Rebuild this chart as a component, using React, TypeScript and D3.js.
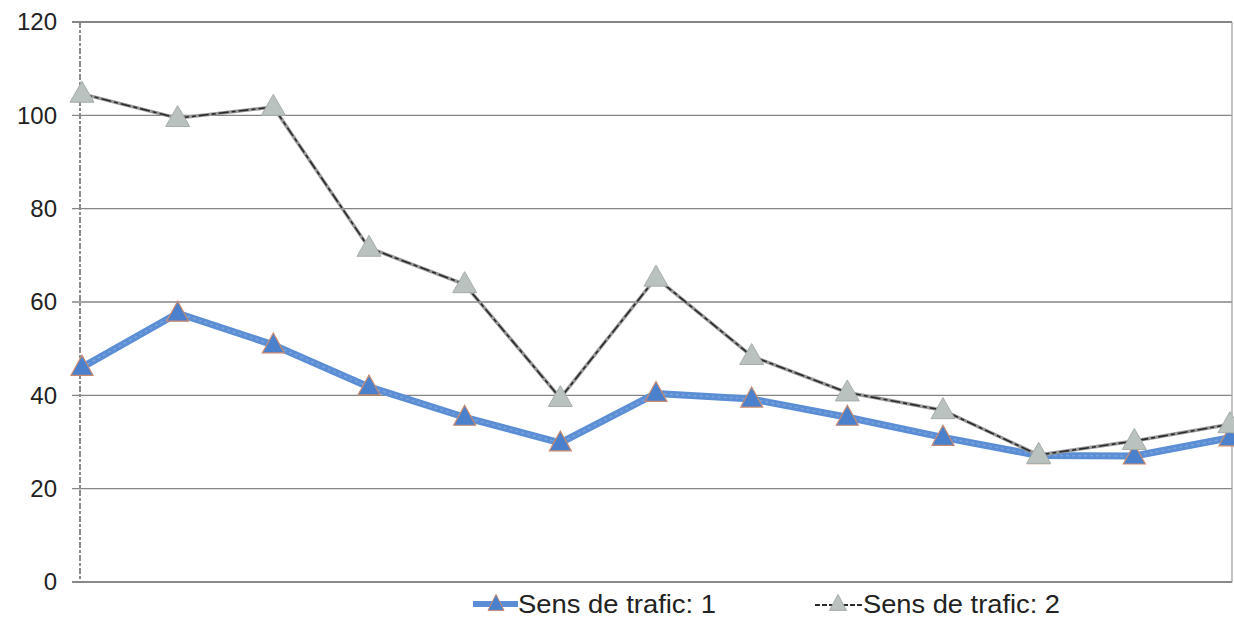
import React from "react";
import * as d3 from "d3";

const categories = ["1", "2", "3", "4", "5", "6", "7", "8", "9", "10", "11", "12", "13"];
const series1 = [46, 57.6, 50.8, 41.8, 35.3, 29.8, 40.4, 39.2, 35.3, 31, 27.1, 27, 30.9];
const series2 = [104.6, 99.4, 101.8, 71.6, 63.8, 39.4, 65.2, 48.4, 40.6, 36.8, 27.2, 30.2, 33.8];
const yTicks = [0, 20, 40, 60, 80, 100, 120];
const legendLabels = ["Sens de trafic: 1", "Sens de trafic: 2"];

const W = 1234;
const H = 618;
const left = 80;
const right = 1232;
const top = 22;
const bottom = 582;
const FONT = "'Liberation Sans', Arial, sans-serif";

function tri(cx: number, cy: number, w: number, h: number) {
  return `M${cx},${cy - h * 0.6}L${cx + w / 2},${cy + h * 0.4}L${cx - w / 2},${cy + h * 0.4}Z`;
}

export default function App() {
  const x = d3.scalePoint<string>().domain(categories).range([left + 2, right - 2]);
  const y = d3.scaleLinear().domain([0, 120]).range([bottom, top]);
  const line = d3
    .line<number>()
    .x((_, i) => x(categories[i]) as number)
    .y((d) => y(d));

  return (
    <svg
      width={W}
      height={H}
      style={{ position: "absolute", left: 0, top: 0, background: "#fff" }}
    >
      {/* gridlines */}
      {yTicks.map((t) => (
        <line
          key={t}
          x1={left - 8}
          x2={right}
          y1={y(t)}
          y2={y(t)}
          stroke={t === 0 ? "#8a8a8a" : "#858585"}
          strokeWidth={t === 0 || t === 120 ? 2 : 1.4}
        />
      ))}
      {/* axes borders */}
      <line x1={left} x2={left} y1={top} y2={bottom} stroke="#8c8c8c" strokeWidth={2} strokeDasharray="6 2 3 2" />
      <line x1={right} x2={right} y1={top} y2={bottom} stroke="#9a9a9a" strokeWidth={1.2} />
      {/* y tick labels */}
      {yTicks.map((t) => (
        <text
          key={t}
          x={57}
          y={y(t)}
          dy="0.35em"
          textAnchor="end"
          fontFamily={FONT}
          fontSize={24}
          fill="#222"
        >
          {t}
        </text>
      ))}
      {/* series 1 */}
      <path d={line(series1) || ""} fill="none" stroke="#5b8ed4" strokeWidth={7} strokeLinejoin="round" />
      <path d={line(series1) || ""} fill="none" stroke="#8fb2e2" strokeWidth={1.5} strokeDasharray="3 3" opacity={0.6} />
      {/* series 2 */}
      <path d={line(series2) || ""} fill="none" stroke="#9a9a9a" strokeWidth={3.5} strokeLinejoin="round" />
      <path d={line(series2) || ""} fill="none" stroke="#2a2a2a" strokeWidth={1.6} strokeDasharray="10 3 4 3" />
      {/* markers series 1 */}
      {series1.map((v, i) => (
        <path
          key={"a" + i}
          d={tri(x(categories[i]) as number, y(v), 22, 20)}
          fill="#4a80cc"
          stroke="#c98a70"
          strokeWidth={1.2}
        />
      ))}
      {/* markers series 2 */}
      {series2.map((v, i) => (
        <path
          key={"b" + i}
          d={tri(x(categories[i]) as number, y(v), 24, 21)}
          fill="#b9c2be"
          stroke="#a6aeaa"
          strokeWidth={1}
        />
      ))}
      {/* legend */}
      <g>
        <line x1={473} x2={518} y1={604} y2={604} stroke="#5b8ed4" strokeWidth={6} />
        <path d={tri(496, 604, 16, 16)} fill="#4a80cc" stroke="#c98a70" strokeWidth={1} />
        <text
          x={518}
          y={604}
          dy="0.35em"
          fontFamily={FONT}
          fontSize={25}
          fill="#222"
          textLength={198}
          lengthAdjust="spacingAndGlyphs"
        >
          {legendLabels[0]}
        </text>
        <line x1={815} x2={862} y1={605} y2={605} stroke="#2a2a2a" strokeWidth={2} strokeDasharray="5 2" />
        <path d={tri(838, 604, 17, 16)} fill="#b9c2be" stroke="#a6aeaa" strokeWidth={1} />
        <text
          x={863}
          y={604}
          dy="0.35em"
          fontFamily={FONT}
          fontSize={25}
          fill="#222"
          textLength={197}
          lengthAdjust="spacingAndGlyphs"
        >
          {legendLabels[1]}
        </text>
      </g>
    </svg>
  );
}
